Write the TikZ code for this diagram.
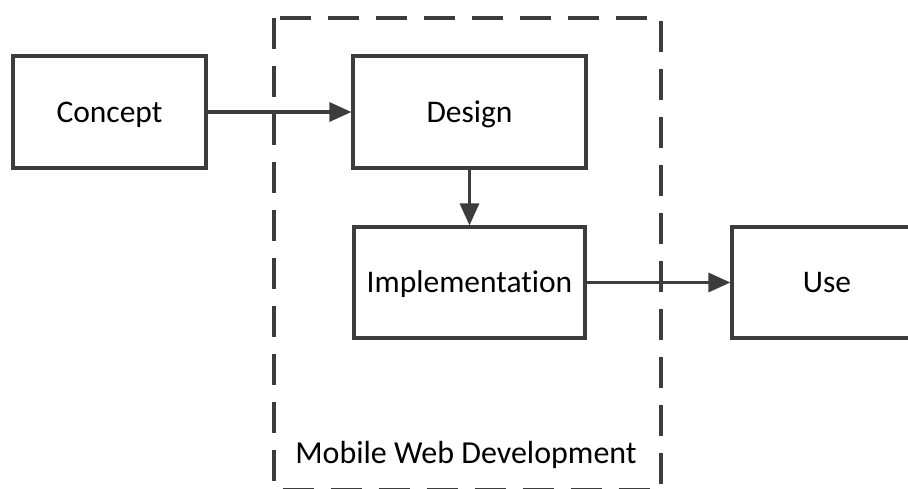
\documentclass[tikz,border=0pt]{standalone}
\usepackage{fontspec}
\setmainfont{Carlito}[RawFeature=-liga]
\usetikzlibrary{arrows.meta}
\definecolor{ink}{HTML}{3C3C3C}
\tikzset{
  box/.style={draw=ink, line width=3.2pt, rectangle, inner sep=0pt, text=black,
    text height=27pt, text depth=7pt,
    font=\fontsize{31.5}{37}\selectfont},
  flow/.style={draw=ink, line width=3.2pt, -{Triangle[length=22pt,width=19pt]}},
  frame/.style={draw=ink, line width=3.4pt, dash pattern=on 31pt off 17pt}
}
\begin{document}
\begin{tikzpicture}[x=1pt,y=-1pt]
\useasboundingbox (0,0) rectangle (908,488);
\clip (0,0) rectangle (908,488);
\draw[frame] (274,18) rectangle (661,489.5);
\node[box, minimum width=193pt, minimum height=112pt] (concept) at (109.5,112) {Concept};
\node[box, minimum width=233pt, minimum height=112pt] (design) at (469.5,112) {Design};
\node[box, minimum width=231pt, minimum height=111pt] (impl) at (469.5,282.5) {Implementation};
\node[box, minimum width=190pt, minimum height=111pt] (use) at (827,282.5) {Use};
\node[font=\fontsize{32}{37}\selectfont, text=black, inner sep=0pt, text height=27pt, text depth=7pt] (label) at (466,453) {Mobile Web Development};
\draw[flow] (concept) -- (design);
\draw[flow] (design) -- (impl);
\draw[flow] (impl) -- (use);
\end{tikzpicture}
\end{document}
